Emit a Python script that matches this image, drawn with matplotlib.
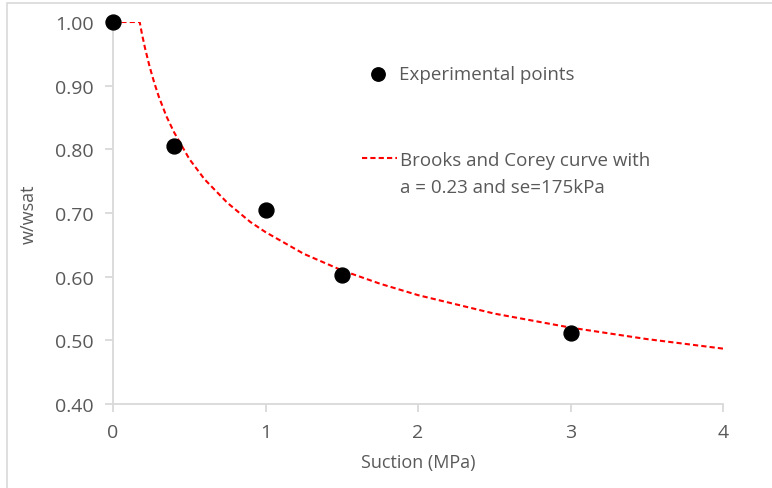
import matplotlib.pyplot as plt
from matplotlib.patches import Rectangle

plt.rcParams['font.family'] = ['Open Sans', 'DejaVu Sans']

# experimental points
suction_pts = [0.0, 0.4, 1.0, 1.5, 3.0]
w_pts = [1.0, 0.806, 0.704, 0.602, 0.512]

# Brooks and Corey curve
suction_curve = [0.0, 0.175, 0.19, 0.21, 0.24, 0.27, 0.3, 0.35, 0.4, 0.5, 0.6, 0.75,
                 0.9, 1.0, 1.25, 1.5, 1.75, 2.0, 2.5, 3.0, 3.5, 4.0]
w_curve = [1.0, 1.0, 0.981, 0.959, 0.930, 0.905, 0.883, 0.852, 0.827, 0.785, 0.753,
           0.716, 0.686, 0.670, 0.636, 0.610, 0.589, 0.571, 0.542, 0.520, 0.502, 0.487]

xticks = [0, 1, 2, 3, 4]
yticks = [0.4, 0.5, 0.6, 0.7, 0.8, 0.9, 1.0]

grey = '#595959'
axis_col = '#d9d9d9'

fig = plt.figure(figsize=(7.72, 4.89), dpi=100)
ax = fig.add_axes([113/772, 1-405/489, 610/772, 382/489])

# chart area border (cut by image edges at right and bottom)
fig.patches.append(Rectangle((7/772, -0.1), 1.2, 1.1 - 3.5/489, transform=fig.transFigure,
                             fill=False, edgecolor=axis_col, linewidth=1.2))

line, = ax.plot(suction_curve, w_curve, color='#ff0000', linestyle=(0, (2.5, 1.5)),
                linewidth=1.5, zorder=2)
pts = ax.scatter(suction_pts, w_pts, s=115, color='black', zorder=3, clip_on=False)

ax.set_xlim(0, 4)
ax.set_ylim(0.4, 1.0)
ax.set_xticks(xticks)
ax.set_yticks(yticks)
ax.set_yticklabels(['%.2f' % v for v in yticks])

for s in ['top', 'right']:
    ax.spines[s].set_visible(False)
for s in ['left', 'bottom']:
    ax.spines[s].set_color(axis_col)
    ax.spines[s].set_linewidth(1.3)
ax.tick_params(colors=axis_col, labelcolor=grey, labelsize=14, length=6, width=1.3)
ax.tick_params(axis='y', pad=8)
ax.tick_params(axis='x', pad=8)

ax.set_xlabel('Suction (MPa)', color=grey, fontsize=13, labelpad=8)
ax.set_ylabel('w/wsat', color=grey, fontsize=13, labelpad=12)

leg1 = ax.legend([pts], ['Experimental points'], loc='center left',
                 bbox_to_anchor=((369-113)/610, (405-75)/382), frameon=False,
                 fontsize=13.5, labelcolor=grey, handlelength=1.0, handletextpad=0.6,
                 borderpad=0, borderaxespad=0, markerscale=0.9)
ax.add_artist(leg1)
leg2 = ax.legend([line], ['Brooks and Corey curve with'],
                 loc='center left', bbox_to_anchor=((362-113)/610, (405-161)/382),
                 frameon=False, fontsize=13.5, labelcolor=grey, handlelength=1.87,
                 handletextpad=0.15, borderpad=0, borderaxespad=0)
# second line of the curve label
ax.text((400-113)/610, (405-188)/382, 'a = 0.23 and se=175kPa', transform=ax.transAxes,
        fontsize=13.5, color=grey, va='center', ha='left')

fig.savefig('out.png', dpi=100)
